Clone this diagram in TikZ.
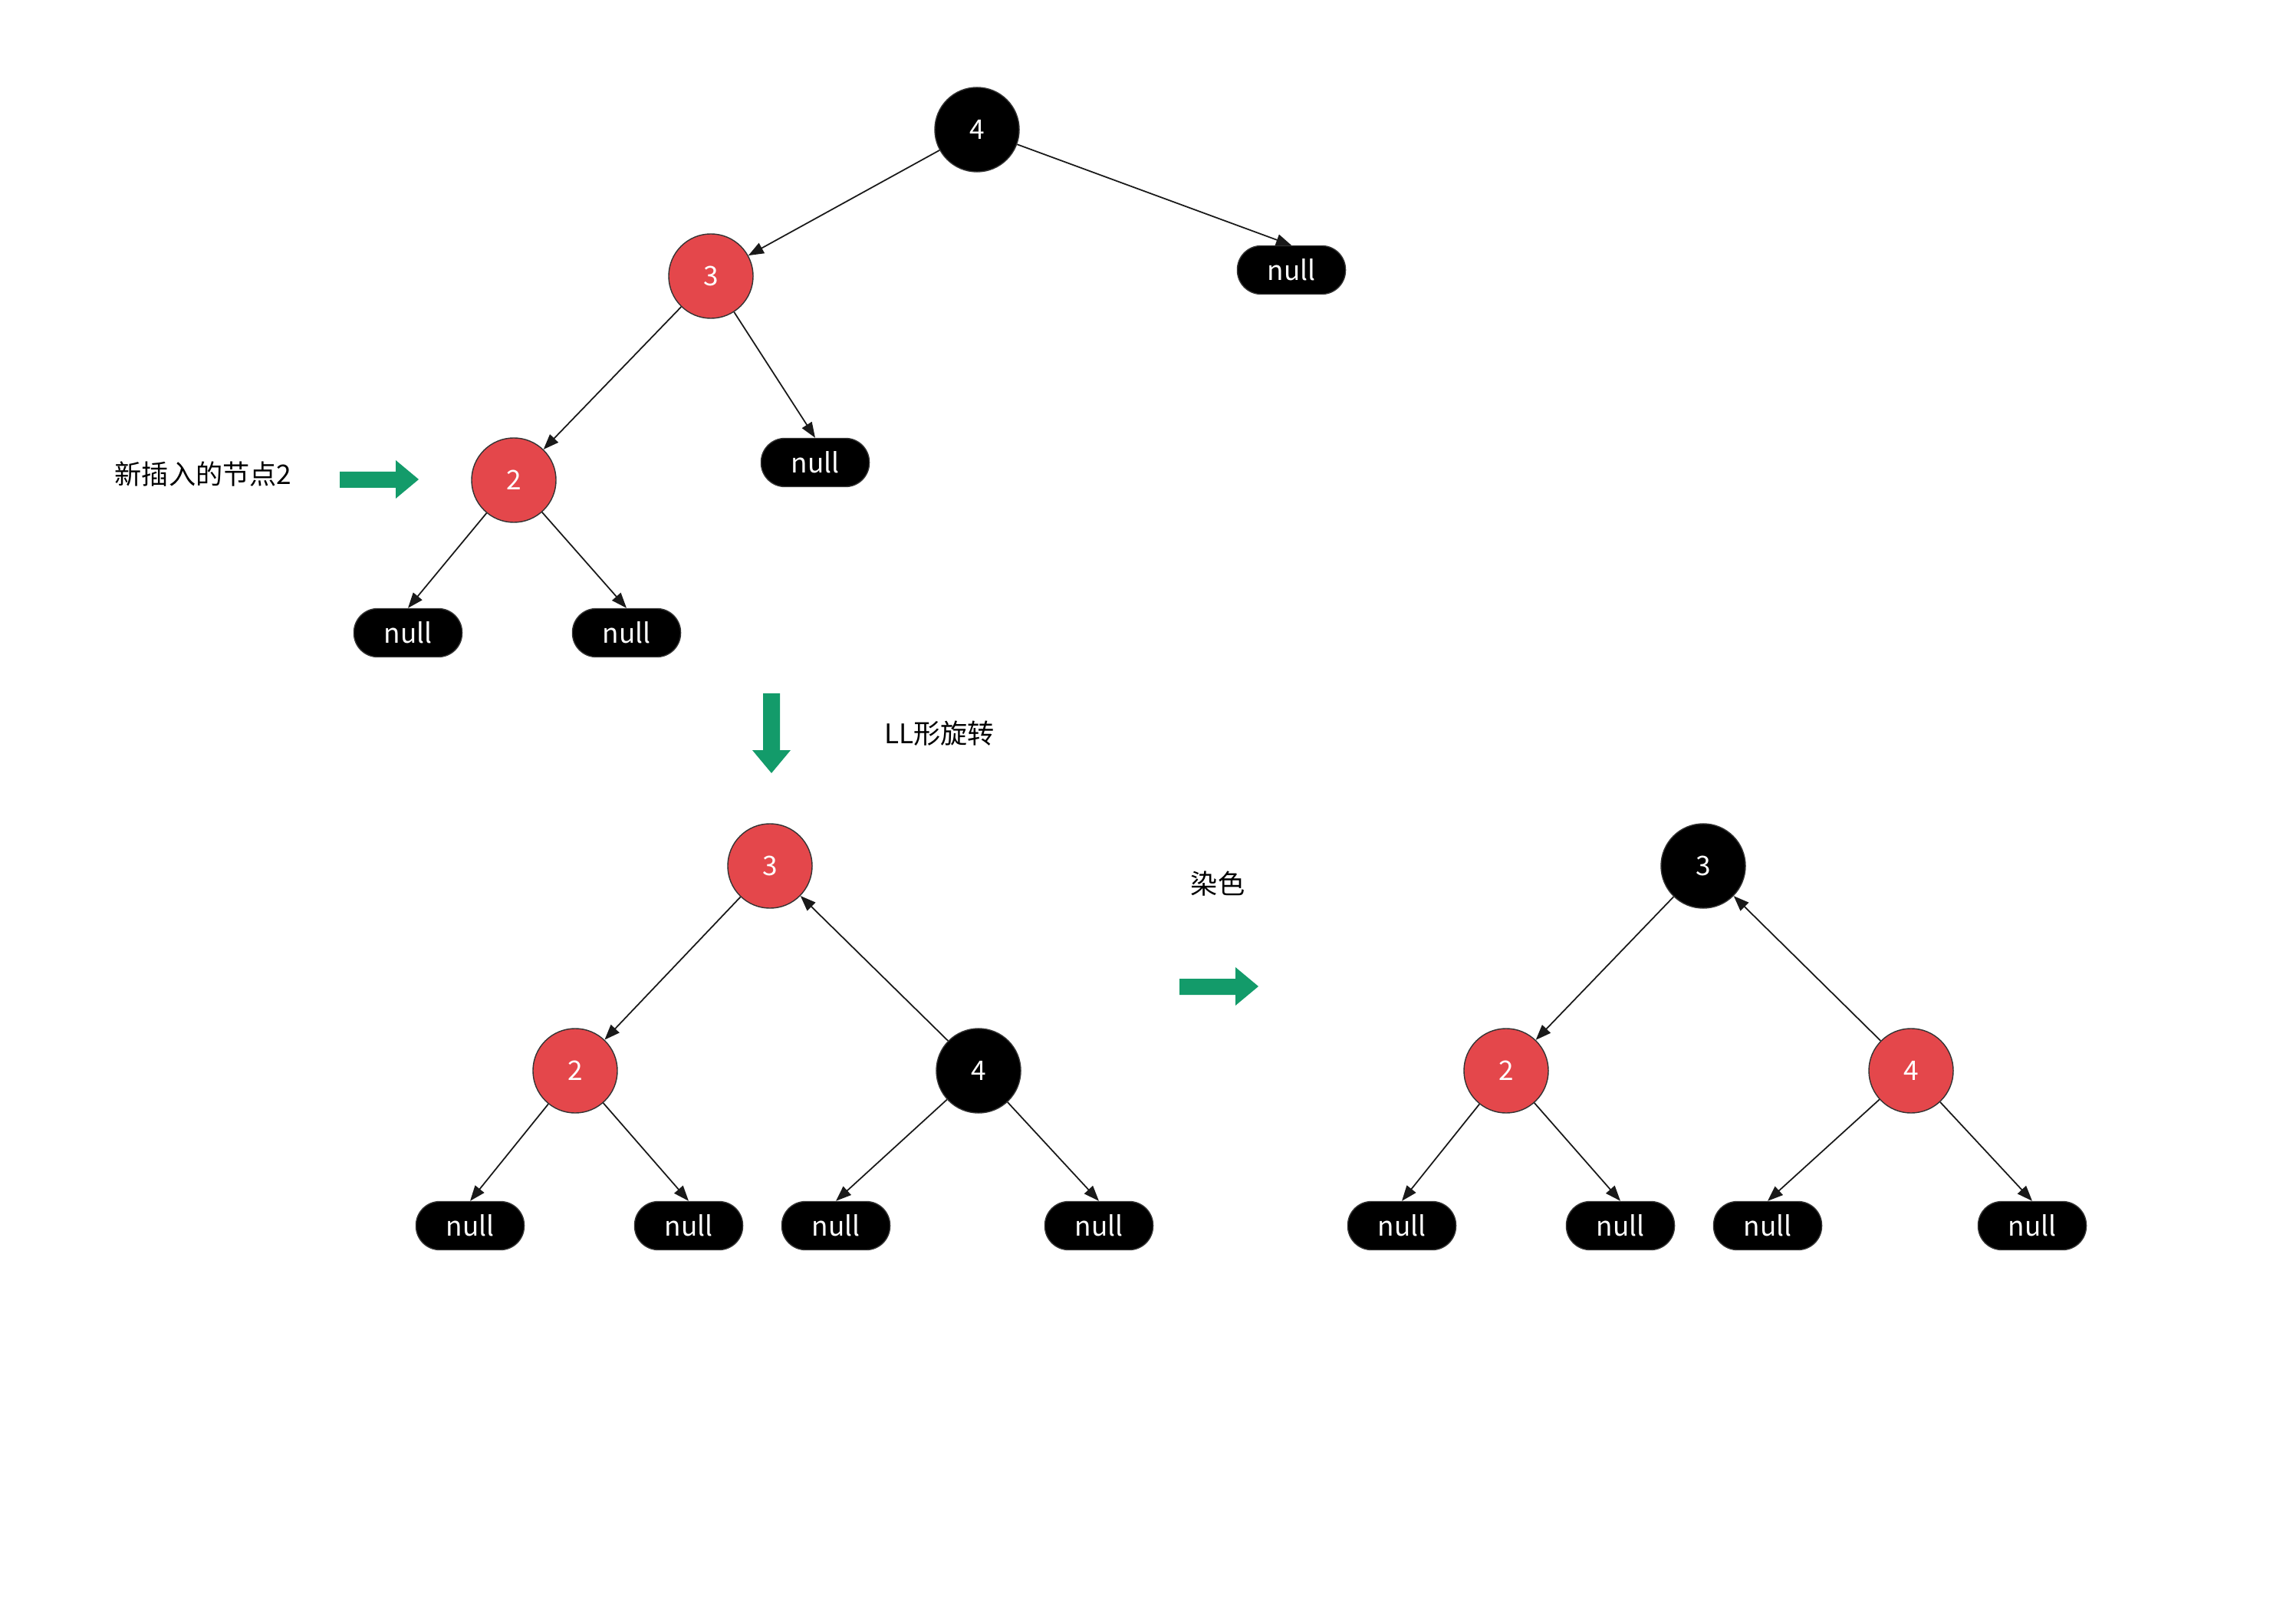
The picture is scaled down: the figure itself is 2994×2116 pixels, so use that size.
\documentclass[tikz,border=0pt]{standalone}
\usepackage{fontspec}
\setmainfont{Noto Sans CJK SC}
\usetikzlibrary{arrows.meta}
\definecolor{rbred}{HTML}{E4474B}
\definecolor{rbgreen}{HTML}{139B6A}
\tikzset{
	rnode/.style={circle,draw=black!80,fill=rbred,text=white,minimum size=1.1cm,inner sep=0pt},
	bnode/.style={circle,draw=black!80,fill=black,text=white,minimum size=1.1cm,inner sep=0pt},
	nilnode/.style={rectangle,rounded corners=0.31cm,draw=black!80,fill=black,text=white,minimum width=1.41cm,minimum height=0.63cm,inner sep=0pt},
	link/.style={-{Triangle[length=2mm,width=1.5mm]},line width=0.5pt,black!90},
	gblock/.style={fill=rbgreen}
}
\begin{document}
\begin{tikzpicture}[x=0.01cm,y=-0.01cm,every node/.style={font=\fontsize{10}{12}\selectfont}]
			\useasboundingbox (0,0) rectangle (2994,2116);

			% tree before rotation
			\node[bnode] (a4) at (1274,169) {4};
			\node[rnode] (a3) at (927,360) {3};
			\node[nilnode] (an4) at (1684,352) {null};
			\node[rnode] (a2) at (670,626) {2};
			\node[nilnode] (an3) at (1063,603) {null};
			\node[nilnode] (an2l) at (532,825) {null};
			\node[nilnode] (an2r) at (817,825) {null};

			\draw[link] (a4) -- (a3);
			\draw[link] (a4) -- (an4.north);
			\draw[link] (a3) -- (a2);
			\draw[link] (a3) -- (an3.north);
			\draw[link] (a2) -- (an2l.north);
			\draw[link] (a2) -- (an2r.north);

			\node (t1) at (265,618) {新插入的节点2};
			\fill[gblock] (443,615) -- ++(73,0) -- ++(0,-15) -- ++(30,25) -- ++(-30,25) -- ++(0,-14) -- ++(-73,0) -- cycle;

			% rotation step
			\fill[gblock] (995,904) -- ++(22,0) -- ++(0,74) -- ++(14,0) -- ++(-25,30) -- ++(-25,-30) -- ++(14,0) -- cycle;
			\node (t2) at (1225,956) {LL形旋转};

			% tree after rotation
			\node[rnode] (b3) at (1004,1129) {3};
			\node[rnode] (b2) at (750,1396) {2};
			\node[bnode] (b4) at (1276,1396) {4};
			\node[nilnode] (bn1) at (613,1598) {null};
			\node[nilnode] (bn2) at (898,1598) {null};
			\node[nilnode] (bn3) at (1090,1598) {null};
			\node[nilnode] (bn4) at (1433,1598) {null};

			\draw[link] (b3) -- (b2);
			\draw[link] (b4) -- (b3);
			\draw[link] (b2) -- (bn1.north);
			\draw[link] (b2) -- (bn2.north);
			\draw[link] (b4) -- (bn3.north);
			\draw[link] (b4) -- (bn4.north);

			% recolouring step
			\node (t3) at (1588,1152) {染色};
			\fill[gblock] (1538,1276) -- ++(73,0) -- ++(0,-15) -- ++(30,25) -- ++(-30,25) -- ++(0,-14) -- ++(-73,0) -- cycle;

			% tree after recolouring
			\node[bnode] (c3) at (2221,1129) {3};
			\node[rnode] (c2) at (1964,1396) {2};
			\node[rnode] (c4) at (2492,1396) {4};
			\node[nilnode] (cn1) at (1828,1598) {null};
			\node[nilnode] (cn2) at (2113,1598) {null};
			\node[nilnode] (cn3) at (2305,1598) {null};
			\node[nilnode] (cn4) at (2650,1598) {null};

			\draw[link] (c3) -- (c2);
			\draw[link] (c4) -- (c3);
			\draw[link] (c2) -- (cn1.north);
			\draw[link] (c2) -- (cn2.north);
			\draw[link] (c4) -- (cn3.north);
			\draw[link] (c4) -- (cn4.north);
		\end{tikzpicture}
\end{document}
